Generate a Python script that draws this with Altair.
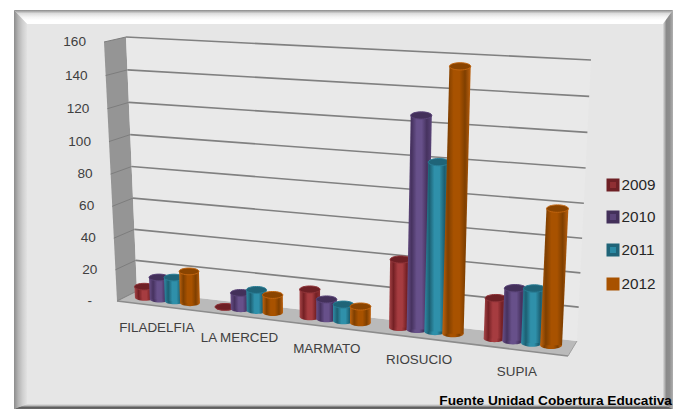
import altair as alt
import pandas as pd

categories = ["FILADELFIA", "LA MERCED", "MARMATO", "RIOSUCIO", "SUPIA"]
years = ["2009", "2010", "2011", "2012"]
v2009 = [7, 0, 17, 41, 24]
v2010 = [14, 10, 12, 126, 31]
v2011 = [15, 13, 10, 100, 32]
v2012 = [20, 11, 10, 155, 79]
tick_values = [160, 140, 120, 100, 80, 60, 40, 20, 0]
tick_labels = ["160", "140", "120", "100", "80", "60", "40", "20", "-"]
source_text = "Fuente Unidad Cobertura Educativa"
series_values = [v2009, v2010, v2011, v2012]

W, H = 673, 409
FONT = "Liberation Sans"
xs = alt.Scale(domain=[8, W], nice=False, zero=False)
ys = alt.Scale(domain=[H, 8], nice=False, zero=False)

FLB, FRB, BLB, BRB = (117, 301), (568, 356), (137, 291), (577, 341)
FLT, FRT, BLT, BRT = (104, 42), (583, 69), (126, 37), (591, 60)
ZMAX = 160
PERSP = 0.15
ZPERSP = 0.04


def lerp(a, b, t):
    return (a[0] + (b[0] - a[0]) * t, a[1] + (b[1] - a[1]) * t)


def project(s, depth, z):
    bottom = lerp(lerp(FLB, FRB, s), lerp(BLB, BRB, s), depth)
    top = lerp(lerp(FLT, FRT, s), lerp(BLT, BRT, s), depth)
    t = z / ZMAX
    return lerp(bottom, top, t - ZPERSP * t * (1 - t))


def persp(u):
    return u / (1 + PERSP * (1 - u))


def xe(c):
    return alt.X(c, scale=xs, axis=None)


def ye(c):
    return alt.Y(c, scale=ys, axis=None)


def grad(stops, horizontal=True):
    n = len(stops) - 1
    g = dict(gradient="linear", x1=0, y1=0, x2=1 if horizontal else 0, y2=0 if horizontal else 1)
    g["stops"] = [dict(offset=i / n, color=c) for i, c in enumerate(stops)]
    return g


def polygon(points, fill, orient="horizontal"):
    main, other = (1, 0) if orient == "horizontal" else (0, 1)
    ts = sorted({p[main] for p in points})
    rows = []
    n = len(points)
    for t in ts:
        hits = []
        for i in range(n):
            a, b = points[i], points[(i + 1) % n]
            lo, hi = sorted((a[main], b[main]))
            if lo <= t <= hi:
                if a[main] == b[main]:
                    hits += [a[other], b[other]]
                else:
                    hits.append(a[other] + (b[other] - a[other]) * (t - a[main]) / (b[main] - a[main]))
        rows.append({"pos": t, "lo": min(hits), "hi": max(hits)})
    df = pd.DataFrame(rows)
    m = alt.Chart(df).mark_area(fill=fill, orient=orient, opacity=1)
    if orient == "horizontal":
        return m.encode(y=ye("pos:Q"), x=xe("lo:Q"), x2="hi:Q")
    return m.encode(x=xe("pos:Q"), y=ye("lo:Q"), y2="hi:Q")


def segments(rows, color, width):
    df = pd.DataFrame(rows)
    return alt.Chart(df).mark_line(color=color, strokeWidth=width).encode(
        x=xe("x:Q"), y=ye("y:Q"), detail="k:N", order="o:Q"
    )


def text(rows, size, color, align, weight="normal"):
    df = pd.DataFrame(rows)
    return alt.Chart(df).mark_text(
        font=FONT, fontSize=size, color=color, align=align, baseline="middle", fontWeight=weight
    ).encode(x=xe("x:Q"), y=ye("y:Q"), text="t:N")


layers = []
R, B = W, H
layers.append(polygon([(14, 10), (R, 10), (R, B), (14, B)], "#e6e6e6"))
layers.append(polygon([(14, 10), (R, 10), (R - 10, 24), (27, 24)],
                      grad(["#8a8a8a", "#dcdcdc", "#f4f4f4", "#ffffff", "#ffffff"], False), "vertical"))
layers.append(polygon([(14, 10), (27, 24), (27, B - 5), (14, B)],
                      grad(["#8c8c8c", "#b4b4b4", "#cfcfcf", "#e2e2e2"]), "horizontal"))
layers.append(polygon([(R, 10), (R, B), (R - 10, B - 5), (R - 10, 24)],
                      grad(["#dddddd", "#8a8a8a", "#8e8e8e", "#b0b0b0"]), "horizontal"))
layers.append(polygon([(14, B), (27, B - 5), (R - 10, B - 5), (R, B)],
                      grad(["#e4e4e4", "#b8b8b8", "#5e5e5e", "#6a6a6a"], False), "vertical"))

layers.append(polygon([FLB, FLT, BLT, BLB], "#959595"))
layers.append(polygon([FLB, BLB, BRB, FRB], "#bababa"))
layers.append(polygon([BLB, BLT, BRT, BRB], "#e9e9e9"))

rows_back, rows_side = [], []
for z in tick_values:
    for o, s in enumerate((0, 1)):
        x, y = project(s, 1, z)
        rows_back.append(dict(k=z, o=o, x=x, y=y))
    for o, d in enumerate((0, 1)):
        x, y = project(0, d, z)
        rows_side.append(dict(k=z, o=o, x=x, y=y))
layers.append(segments(rows_side, "#7d7d7d", 1))
layers.append(segments([r for r in rows_back if r["k"] != 0], "#808080", 1.6))
layers.append(segments([dict(k=0, o=0, x=FLB[0], y=FLB[1]), dict(k=0, o=1, x=FRB[0], y=FRB[1])], "#8c8c8c", 1.6))
layers.append(segments([dict(k=0, o=0, x=FRB[0], y=FRB[1]), dict(k=0, o=1, x=BRB[0], y=BRB[1])], "#a0a0a0", 1))

ELLIPSE = "M-1,0A1,0.34,0,1,1,1,0A1,0.34,0,1,1,-1,0Z"
styles = [
    dict(body=["#a8474a", "#742024", "#a63c40", "#a63c40", "#742024", "#8c3034"], cap="#6e2025", rim="#8f3338"),
    dict(body=["#6a5088", "#46325f", "#67508a", "#67508a", "#46325f", "#5a4478"], cap="#43305a", rim="#5a4478"),
    dict(body=["#2f8ca6", "#1c5f72", "#2f90aa", "#2f90aa", "#1c5f72", "#2a7e96"], cap="#1f6478", rim="#2a7e96"),
    dict(body=["#c0640f", "#7f3f00", "#a85200", "#a85200", "#7f3f00", "#bd6210"], cap="#8a4400", rim="#c0640f"),
]
DEPTH = 0.55
CAT_W, SER_STEP = 1 / len(categories), 0.038

for j, values in enumerate(series_values):
    st = styles[j]
    bases, tops, sides = [], [], []
    for i, val in enumerate(values):
        u = (i + 0.5) * CAT_W + (j - 1.5) * SER_STEP
        s = persp(u)
        bx, by = project(s, DEPTH, 0)
        tx, ty = project(s, DEPTH, val)
        w = 19.5 + 2.5 * s
        bases.append(dict(x=bx, y=by, size=w * w))
        tops.append(dict(x=tx, y=ty, size=w * w))
        if val > 0:
            sides.append(dict(cat=categories[i], y=ty, x0=tx - w / 2, x1=tx + w / 2))
            sides.append(dict(cat=categories[i], y=by, x0=bx - w / 2, x1=bx + w / 2))
    size = alt.Size("size:Q", scale=None, legend=None)
    layers.append(alt.Chart(pd.DataFrame(bases))
                  .mark_point(shape=ELLIPSE, filled=True, opacity=1, fill=grad(st["body"]), strokeWidth=0)
                  .encode(x=xe("x:Q"), y=ye("y:Q"), size=size))
    layers.append(alt.Chart(pd.DataFrame(sides))
                  .mark_area(fill=grad(st["body"]), orient="horizontal", opacity=1)
                  .encode(y=ye("y:Q"), x=xe("x0:Q"), x2="x1:Q", detail="cat:N"))
    layers.append(alt.Chart(pd.DataFrame(tops))
                  .mark_point(shape=ELLIPSE, filled=True, opacity=1, fill=st["cap"], stroke=st["rim"], strokeWidth=1)
                  .encode(x=xe("x:Q"), y=ye("y:Q"), size=size))

rows = []
for z, lab in zip(tick_values, tick_labels):
    x, y = project(0, 0, z)
    rows.append(dict(x=x - (25 if lab == "-" else 18), y=y, t=lab))
layers.append(text(rows, 13.6, "#404040", "right"))

rows = []
for i, c in enumerate(categories):
    x, y = project(persp((i + 0.5) * CAT_W), 0, 0)
    rows.append(dict(x=x, y=y + 22, t=c))
layers.append(text(rows, 13.4, "#404040", "center"))

legend_y = [185, 217, 250, 284]
fills = ["#8f2f33", "#5a4478", "#2a8aa4", "#a85200"]
edges = ["#6e2025", "#43305a", "#1f6478", "#a85200"]
for y, f, e in zip(legend_y, fills, edges):
    d = pd.DataFrame([dict(x=613, y=y)])
    layers.append(alt.Chart(d).mark_point(shape="square", filled=True, opacity=1, fill=f, stroke=e,
                                          strokeWidth=3.5, size=90)
                  .encode(x=xe("x:Q"), y=ye("y:Q")))
layers.append(text([dict(x=621.5, y=y, t=t) for y, t in zip(legend_y, years)], 15.3, "#262626", "left"))

layers.append(text([dict(x=672, y=401, t=source_text)], 13.7, "#000000", "right", weight="bold"))

chart = alt.layer(*layers).properties(
    width=W - 8, height=H - 8, padding=0, autosize=alt.AutoSizeParams(type="none"), background="#ffffff"
).configure_view(stroke=None)

chart.save("out.html", embed_options={"renderer": "svg", "actions": False})
